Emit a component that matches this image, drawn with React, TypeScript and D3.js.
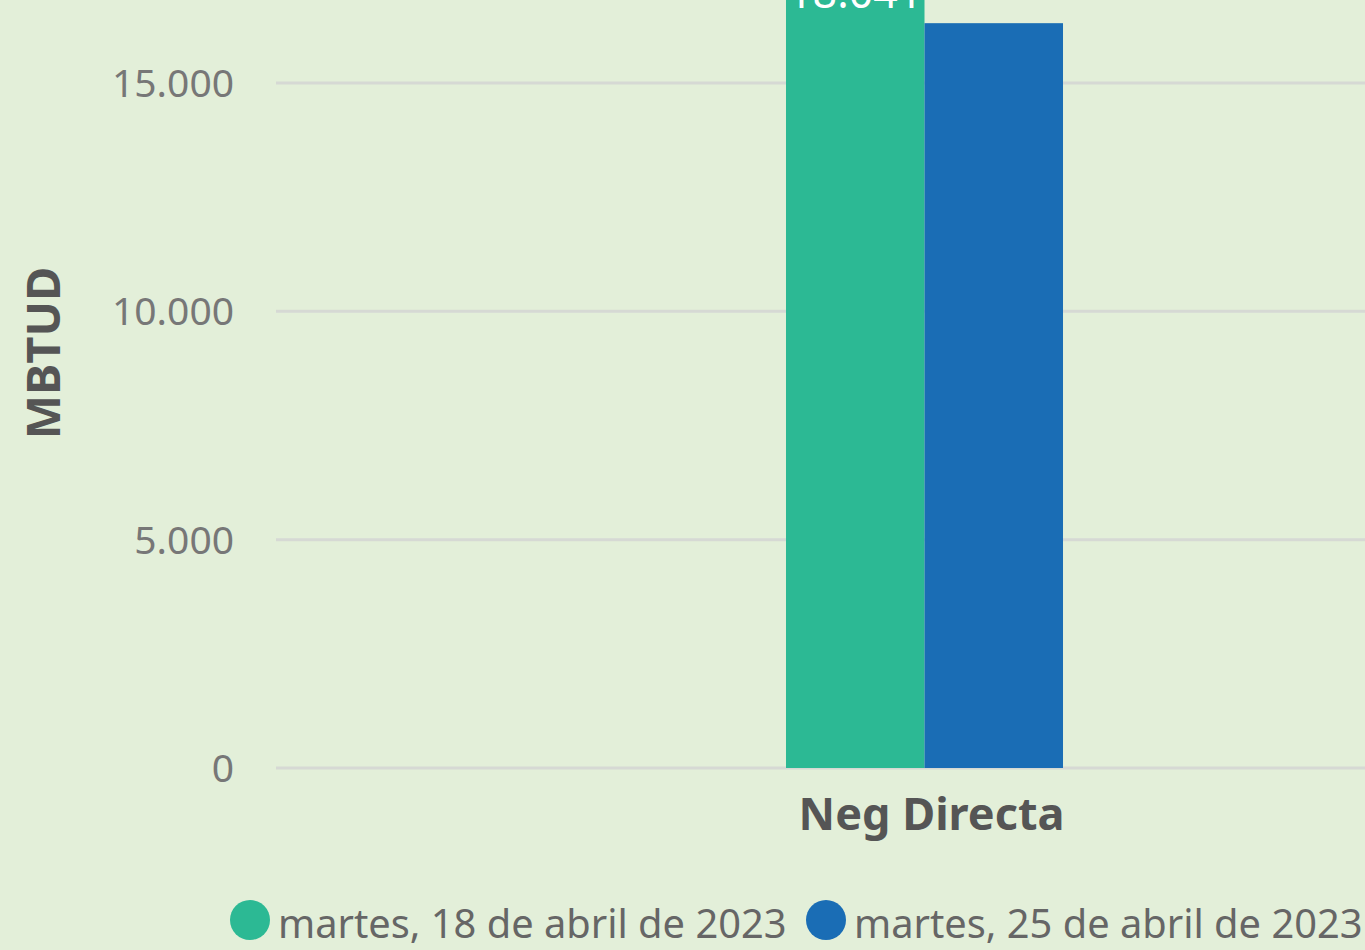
import React, { useEffect, useRef } from "react";
import * as d3 from "d3";

const categories = ["Neg Directa"];
const seriesNames = ["martes, 18 de abril de 2023", "martes, 25 de abril de 2023"];
const seriesColors = ["#2cb994", "#1a6db5"];
const values18 = [18041];
const values25 = [16310];
const yTicks = [0, 5000, 10000, 15000];
const yTitle = "MBTUD";

const W = 1365;
const H = 950;

export default function App() {
  const ref = useRef<SVGSVGElement>(null);
  useEffect(() => {
    document.body.style.margin = "0";
    const svg = d3.select(ref.current);
    svg.selectAll("*").remove();
    const font = "'Noto Sans', 'Open Sans', sans-serif";
    svg.append("rect").attr("width", W).attr("height", H).attr("fill", "#e3efd9");

    const y = d3.scaleLinear().domain([0, 15000]).range([768, 83]);
    const x = d3.scaleBand().domain(categories).range([276, 1573]).paddingOuter(1.841).paddingInner(0);
    const xs = d3.scaleBand().domain(seriesNames).range([0, x.bandwidth()]);

    const fmt = (v: number) => d3.format(",")(v).replace(/,/g, ".");

    // gridlines
    svg.append("g").selectAll("line").data(yTicks).join("line")
      .attr("x1", 276).attr("x2", W)
      .attr("y1", (d) => y(d)).attr("y2", (d) => y(d))
      .attr("stroke", "#d6d9d4").attr("stroke-width", 3);

    svg.append("g").selectAll("text").data(yTicks).join("text")
      .attr("x", 234).attr("y", (d) => y(d) + 14)
      .attr("text-anchor", "end")
      .attr("font-family", font).attr("font-size", 39)
      .attr("fill", "#777").text((d) => fmt(d));

    svg.append("text")
      .attr("transform", "translate(60,353) rotate(-90)")
      .attr("text-anchor", "middle")
      .attr("font-family", font).attr("font-size", 47).attr("font-weight", 700)
      .attr("fill", "#555").text(yTitle);

    const series = [values18, values25];
    categories.forEach((c, ci) => {
      series.forEach((vals, si) => {
        const x0 = (x(c) as number) + (xs(seriesNames[si]) as number);
        const v = vals[ci];
        svg.append("rect")
          .attr("x", x0).attr("width", xs.bandwidth())
          .attr("y", y(v)).attr("height", y(0) - y(v))
          .attr("fill", seriesColors[si]);
        if (si === 0) {
          svg.append("text")
            .attr("x", x0 + xs.bandwidth() / 2)
            .attr("y", Math.max(y(v), -30) + 38)
            .attr("text-anchor", "middle")
            .attr("font-family", font).attr("font-size", 43)
            .attr("fill", "#fff").text(fmt(v));
        }
      });
      svg.append("text")
        .attr("x", (x(c) as number) + x.bandwidth() / 2 + 7)
        .attr("y", 830)
        .attr("text-anchor", "middle")
        .attr("font-family", font).attr("font-size", 45).attr("font-weight", 700)
        .attr("fill", "#555").text(c);
    });

    // legend
    const legendX = [250, 826];
    seriesNames.forEach((n, i) => {
      svg.append("circle").attr("cx", legendX[i]).attr("cy", 920).attr("r", 20).attr("fill", seriesColors[i]);
      svg.append("text")
        .attr("x", legendX[i] + 28).attr("y", 938)
        .attr("font-family", font).attr("font-size", 39.8)
        .attr("fill", "#666").text(n);
    });
  }, []);
  return <svg ref={ref} width={W} height={H} style={{ display: "block" }} />;
}
